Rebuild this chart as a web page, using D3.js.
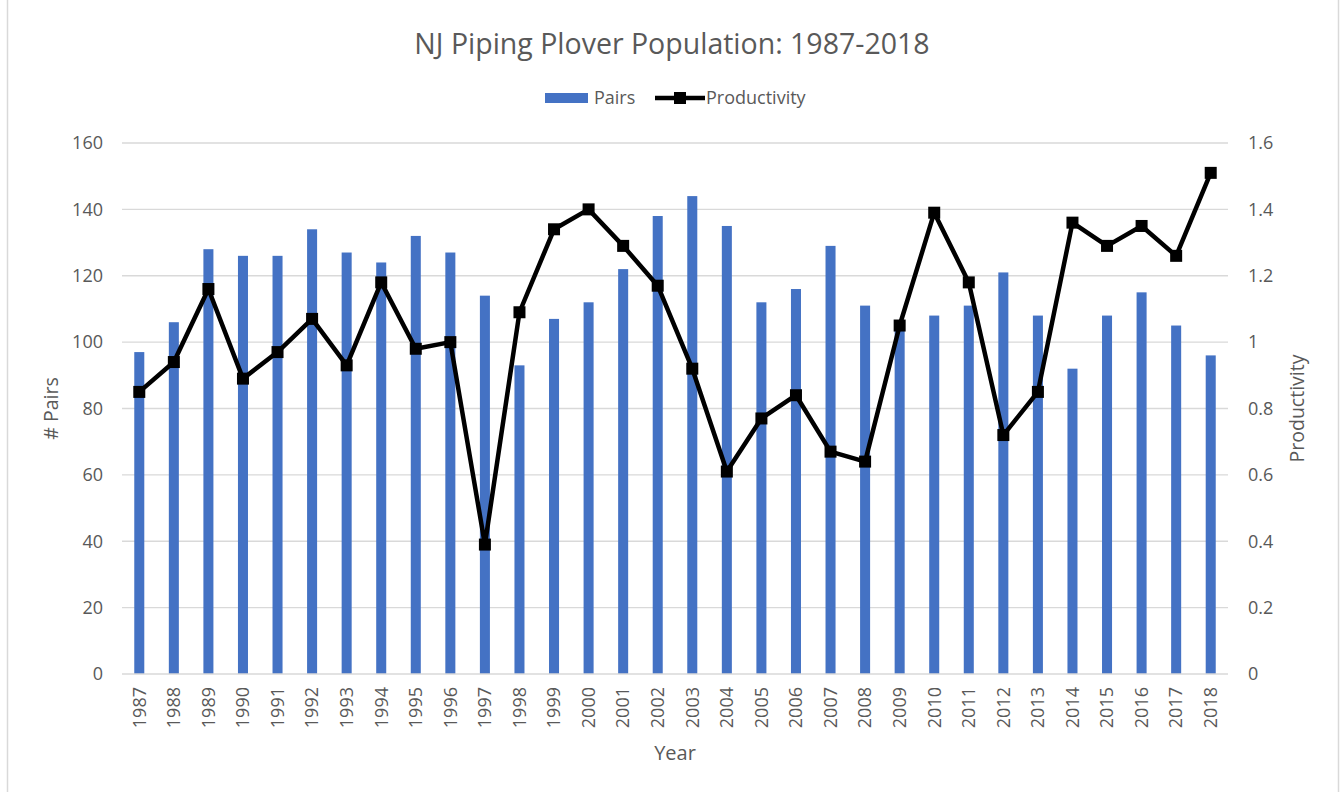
<!DOCTYPE html>
<html>
<head>
<meta charset="utf-8">
<script src="https://cdn.jsdelivr.net/npm/d3@7"></script>
<style>
  html, body { margin: 0; padding: 0; background: #fff; }
  svg { display: block; }
  text { font-family: "Open Sans", "Noto Sans", sans-serif; fill: #595959; }
</style>
</head>
<body>
<svg id="chart" width="1343" height="792"></svg>
<script>
const years = ["1987","1988","1989","1990","1991","1992","1993","1994","1995","1996","1997","1998","1999","2000","2001","2002","2003","2004","2005","2006","2007","2008","2009","2010","2011","2012","2013","2014","2015","2016","2017","2018"];
const pairs = [97,106,128,126,126,134,127,124,132,127,114,93,107,112,122,138,144,135,112,116,129,111,104,108,111,121,108,92,108,115,105,96];
const productivity = [0.85,0.94,1.16,0.89,0.97,1.07,0.93,1.18,0.98,1.00,0.39,1.09,1.34,1.40,1.29,1.17,0.92,0.61,0.77,0.84,0.67,0.64,1.05,1.39,1.18,0.72,0.85,1.36,1.29,1.35,1.26,1.51];
const leftTicks = [0,20,40,60,80,100,120,140,160];
const rightTicks = [0,0.2,0.4,0.6,0.8,1,1.2,1.4,1.6];

const svg = d3.select("#chart");
const W = 1343, H = 792;
const plot = {left: 122, right: 1228, top: 143, bottom: 674};
const tickFont = "18px";

// outer border (chart area)
svg.append("line").attr("x1", 7.5).attr("x2", 7.5).attr("y1", 0).attr("y2", H).attr("stroke", "#d9d9d9").attr("stroke-width", 1.5);
svg.append("line").attr("x1", 1338.5).attr("x2", 1338.5).attr("y1", 0).attr("y2", H).attr("stroke", "#d9d9d9").attr("stroke-width", 1.5);

const x = d3.scaleBand().domain(years).range([plot.left, plot.right]).paddingInner(0.71).paddingOuter(0.355);
const yL = d3.scaleLinear().domain([0,160]).range([plot.bottom, plot.top]);
const yR = d3.scaleLinear().domain([0,1.6]).range([plot.bottom, plot.top]);

// gridlines
svg.append("g").selectAll("line").data(leftTicks.filter(d => d > 0)).join("line")
  .attr("x1", plot.left).attr("x2", plot.right)
  .attr("y1", d => yL(d)).attr("y2", d => yL(d))
  .attr("stroke", "#d9d9d9").attr("stroke-width", 1.3);

// bars
svg.append("g").selectAll("rect").data(years).join("rect")
  .attr("x", d => x(d))
  .attr("width", x.bandwidth())
  .attr("y", (d,i) => yL(pairs[i]))
  .attr("height", (d,i) => yL(0) - yL(pairs[i]))
  .attr("fill", "#4472C4");

// x axis baseline
svg.append("line").attr("x1", plot.left).attr("x2", plot.right)
  .attr("y1", yL(0)).attr("y2", yL(0)).attr("stroke", "#d9d9d9").attr("stroke-width", 1.3);

// left axis
const leftAxis = d3.axisLeft(yL).tickValues(leftTicks).tickSize(0).tickPadding(19);
const gL = svg.append("g").attr("transform", `translate(${plot.left},0)`).call(leftAxis);
gL.select(".domain").remove();
gL.selectAll("text").style("font-size", tickFont).attr("fill", "#595959").style("font-family", "'Open Sans', sans-serif");

// right axis
const rightAxis = d3.axisRight(yR).tickValues(rightTicks).tickSize(0).tickPadding(20).tickFormat(d => d3.format("")(d));
const gR = svg.append("g").attr("transform", `translate(${plot.right},0)`).call(rightAxis);
gR.select(".domain").remove();
gR.selectAll("text").style("font-size", tickFont).attr("fill", "#595959").style("font-family", "'Open Sans', sans-serif");

// bottom axis
const bottomAxis = d3.axisBottom(x).tickSize(0).tickPadding(0);
const gB = svg.append("g").attr("transform", `translate(0,${plot.bottom})`).call(bottomAxis);
gB.select(".domain").remove();
gB.selectAll("text")
  .style("font-size", tickFont).attr("fill", "#595959").style("font-family", "'Open Sans', sans-serif")
  .attr("transform", "rotate(-90)")
  .attr("text-anchor", "end")
  .attr("dy", "0.35em")
  .attr("x", -13).attr("y", 0);

// line
const line = d3.line().x((d,i) => x(years[i]) + x.bandwidth()/2).y(d => yR(d));
svg.append("path").datum(productivity)
  .attr("d", line).attr("fill", "none").attr("stroke", "#000").attr("stroke-width", 4.5)
  .attr("stroke-linejoin", "round");
const ms = 12;
svg.append("g").selectAll("rect").data(productivity).join("rect")
  .attr("x", (d,i) => x(years[i]) + x.bandwidth()/2 - ms/2)
  .attr("y", d => yR(d) - ms/2)
  .attr("width", ms).attr("height", ms).attr("fill", "#000");

// title
svg.append("text").attr("x", 672).attr("y", 54).attr("text-anchor", "middle")
  .style("font-size", "28.5px").text("NJ Piping Plover Population: 1987-2018");

// legend
const lg = svg.append("g");
lg.append("rect").attr("x", 545).attr("y", 93).attr("width", 43).attr("height", 10).attr("fill", "#4472C4");
lg.append("text").attr("x", 594).attr("y", 98).attr("dy", "0.35em").style("font-size", "18px").text("Pairs");
lg.append("line").attr("x1", 655).attr("x2", 705).attr("y1", 98).attr("y2", 98).attr("stroke", "#000").attr("stroke-width", 4.5);
lg.append("rect").attr("x", 674).attr("y", 92).attr("width", 12).attr("height", 12).attr("fill", "#000");
lg.append("text").attr("x", 706).attr("y", 98).attr("dy", "0.35em").style("font-size", "18px").text("Productivity");

// axis titles
svg.append("text").attr("transform", `translate(58,${(plot.top+plot.bottom)/2}) rotate(-90)`)
  .attr("text-anchor", "middle").style("font-size", "19.5px").text("# Pairs");
svg.append("text").attr("transform", `translate(1297,${(plot.top+plot.bottom)/2}) rotate(-90)`)
  .attr("text-anchor", "middle").attr("dy", "0.35em").style("font-size", "19.5px").text("Productivity");
svg.append("text").attr("x", (plot.left+plot.right)/2).attr("y", 760)
  .attr("text-anchor", "middle").style("font-size", "20px").text("Year");
</script>
</body>
</html>
